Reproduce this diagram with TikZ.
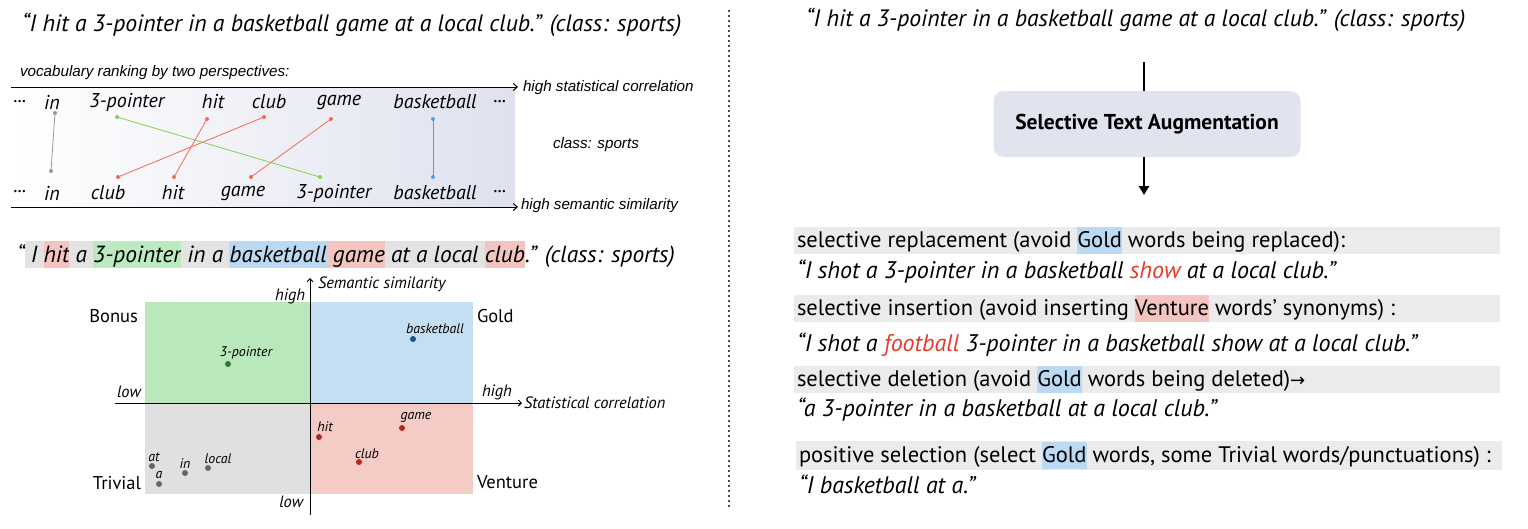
\documentclass[tikz,border=0pt]{standalone}
\usepackage{fontspec}
\setmainfont{PT Sans}
\newfontfamily\helv{Liberation Sans}
\newfontfamily\symf{DejaVu Sans}
\usetikzlibrary{arrows.meta}
\definecolor{lav}{HTML}{DFE1EE}
\definecolor{lngray}{HTML}{999999}
\definecolor{lngreen}{HTML}{7FD34E}
\definecolor{lnred}{HTML}{F26B55}
\definecolor{lnblue}{HTML}{4D9FF2}
\definecolor{hlgray}{HTML}{E3E3E3}
\definecolor{hlred}{HTML}{F4C5C0}
\definecolor{hlgreen}{HTML}{BCEAC0}
\definecolor{hlblue}{HTML}{BBD9F2}
\definecolor{qgreen}{HTML}{B9E8BC}
\definecolor{qblue}{HTML}{C5DFF2}
\definecolor{qgray}{HTML}{E0E0E0}
\definecolor{qpink}{HTML}{F5CBC6}
\definecolor{dgray}{HTML}{666666}
\definecolor{dred}{HTML}{B22A1F}
\definecolor{dgreen}{HTML}{2E7D2E}
\definecolor{dblue}{HTML}{24508A}
\definecolor{stripgray}{HTML}{EBEBEB}
\definecolor{boxfill}{HTML}{E1E3EF}
\definecolor{txtred}{HTML}{E8392A}
\newcommand\hlm[2]{{\setlength{\fboxsep}{0pt}\colorbox{#1}{\rule[-6pt]{0pt}{27pt}#2}}}
\newcommand\hlr[2]{{\setlength{\fboxsep}{0pt}\colorbox{#1}{\rule[-7pt]{0pt}{27pt}#2}}}
\begin{document}
\begin{tikzpicture}[x=1pt,y=-1pt,
  every node/.style={inner sep=0pt, outer sep=0pt},
  ttl/.style={anchor=west, font=\fontsize{23.7}{27}\selectfont\itshape},
  hv/.style={font=\helv\fontsize{15.2}{17}\selectfont\itshape},
  rword/.style={font=\fontsize{20}{22}\selectfont\itshape},
  rdot/.style={circle, fill=#1, minimum size=4pt},
  qdot/.style={circle, fill=#1, minimum size=6pt},
  qlab/.style={font=\fontsize{13.9}{15}\selectfont\itshape},
  qname/.style={font=\fontsize{18.5}{20}\selectfont},
  axlab/.style={font=\fontsize{16.4}{18}\selectfont\itshape},
  strip/.style={fill=stripgray, minimum width=706pt, minimum height=27pt},
  rtxt/.style={anchor=base west, font=\fontsize{22.5}{26}\selectfont},
  ritx/.style={anchor=base west, font=\fontsize{24}{28}\selectfont\itshape},
  axarrow/.style={line width=1pt, -{Straight Barb[length=4pt,width=7pt]}},
  sep/.style={draw=black!70, line width=1.3pt, dash pattern=on 2pt off 3pt}
]
\useasboundingbox (0,0) rectangle (1528,528);

% ---------------- left panel ----------------
\node[ttl] (ltitle) at (22,25) {“I hit a 3-pointer in a basketball game at a local club.” (class: sports)};

\node[hv, anchor=west] (vocab) at (20,73) {vocabulary ranking by two perspectives:};
\shade[left color=white, right color=lav] (11,87) rectangle (515,207);
\coordinate (ta0) at (11,87);
\coordinate (ta1) at (518,87);
\coordinate (ba0) at (11,207);
\coordinate (ba1) at (518,207);
\draw[axarrow] (ta0) -- (ta1);
\draw[axarrow] (ba0) -- (ba1);
\node[hv, anchor=west] (hsc) at (523,88) {high statistical correlation};
\node[hv, anchor=west] (hss) at (521,206) {high semantic similarity};
\node[hv, anchor=west] (csp) at (553,145) {class: sports};

% top ranking words
\node[rword] (tdots) at (20,102) {...};
\node[rword] (tin) at (52,102) {in};
\node[rword] (t3p) at (127,102) {3-pointer};
\node[rword] (thit) at (213,102) {hit};
\node[rword] (tclub) at (269,102) {club};
\node[rword] (tgame) at (339,102) {game};
\node[rword] (tbb) at (435,102) {basketball};
\node[rword] (tdots2) at (500,102) {...};
% bottom ranking words
\node[rword] (bdots) at (20,192) {...};
\node[rword] (bin) at (52,193) {in};
\node[rword] (bclub) at (108,193) {club};
\node[rword] (bhit) at (173,193) {hit};
\node[rword] (bgame) at (243,193) {game};
\node[rword] (b3p) at (334,193) {3-pointer};
\node[rword] (bbb) at (435,193) {basketball};
\node[rword] (bdots2) at (500,192) {...};
% dots
\node[rdot=lngray] (dtin) at (55,113) {};
\node[rdot=lngreen] (dt3p) at (117,117) {};
\node[rdot=lnred] (dthit) at (207,119) {};
\node[rdot=lnred] (dtclub) at (264,117) {};
\node[rdot=lnred] (dtgame) at (331,119) {};
\node[rdot=lnblue] (dtbb) at (433,119) {};
\node[rdot=lngray] (dbin) at (51,171) {};
\node[rdot=lnred] (dbclub) at (118,177) {};
\node[rdot=lnred] (dbhit) at (174,177) {};
\node[rdot=lnred] (dbgame) at (251,177) {};
\node[rdot=lngreen] (db3p) at (320,177) {};
\node[rdot=lnblue] (dbbb) at (433,177) {};
\draw[lngray, line width=0.8pt] (dtin.center) -- (dbin.center);
\draw[lngreen, line width=0.8pt] (dt3p.center) -- (db3p.center);
\draw[lnred, line width=0.8pt] (dthit.center) -- (dbhit.center);
\draw[lnred, line width=0.8pt] (dtclub.center) -- (dbclub.center);
\draw[lnred, line width=0.8pt] (dtgame.center) -- (dbgame.center);
\draw[lnblue, line width=0.8pt] (dtbb.center) -- (dbbb.center);

% highlighted sentence
\node[anchor=base west, font=\fontsize{23.4}{26}\selectfont\itshape] (hls) at (17,262)
 {“\hlm{hlgray}{\ I\ }\hlm{hlred}{hit}\hlm{hlgray}{\ a\ }\hlm{hlgreen}{3-pointer}\hlm{hlgray}{\ in a\ }\hlm{hlblue}{basketball}\hlm{hlred}{\ game}\hlm{hlgray}{\ at a local\ }\hlm{hlred}{club}.” (class: sports)};

% quadrants
\fill[qgreen] (145,302) rectangle (310,403);
\fill[qblue] (310,302) rectangle (473,403);
\fill[qgray] (145,403) rectangle (310,494);
\fill[qpink] (310,403) rectangle (473,494);
\coordinate (v0) at (310,515);
\coordinate (v1) at (310,278);
\coordinate (h0) at (115,403);
\coordinate (h1) at (522,403);
\draw[line width=1pt, -{Straight Barb[length=3pt,width=6pt]}] (v0) -- (v1);
\draw[line width=1pt, -{Straight Barb[length=3pt,width=6pt]}] (h0) -- (h1);
\node[axlab, anchor=west] (semsim) at (318,284) {Semantic similarity};
\node[axlab, anchor=east] (vhigh) at (305,296) {high};
\node[axlab, anchor=east] (vlow) at (303,502) {low};
\node[axlab, anchor=west] (hlow) at (117,392) {low};
\node[axlab, anchor=west] (hhigh) at (482,392) {high};
\node[axlab, anchor=west] (statcor) at (524,403) {Statistical correlation};
\node[qname, anchor=east] (bonus) at (138,316) {Bonus};
\node[qname, anchor=west] (gold) at (477,316) {Gold};
\node[qname, anchor=east] (trivial) at (141,483) {Trivial};
\node[qname, anchor=west] (venture) at (477,482) {Venture};

\node[qdot=dgreen] (q3p) at (228,364) {};
\node[qlab] (l3p) at (246,353) {3-pointer};
\node[qdot=dblue] (qbb) at (413,339) {};
\node[qlab] (lbb) at (435,329) {basketball};
\node[qdot=dred] (qhit) at (319,437) {};
\node[qlab] (lhit) at (325,427) {hit};
\node[qdot=dred] (qgame) at (402,428) {};
\node[qlab] (lgame) at (416,417) {game};
\node[qdot=dred] (qclub) at (359,462) {};
\node[qlab] (lclub) at (367,454) {club};
\node[qdot=dgray] (qat) at (152,466) {};
\node[qlab] (lat) at (154,457) {at};
\node[qdot=dgray] (qa) at (159,484) {};
\node[qlab] (la) at (159,475) {a};
\node[qdot=dgray] (qin) at (185,473) {};
\node[qlab] (lin) at (185,464) {in};
\node[qdot=dgray] (qlocal) at (208,468) {};
\node[qlab] (llocal) at (218,459) {local};

% separator
\coordinate (s0) at (729,10);
\coordinate (s1) at (729,508);
\draw[sep] (s0) -- (s1);

% ---------------- right panel ----------------
\node[ttl] (rtitle) at (806,20) {“I hit a 3-pointer in a basketball game at a local club.” (class: sports)};
\node[fill=boxfill, rounded corners=10pt, minimum width=307pt, minimum height=66pt,
      font=\fontsize{21.5}{24}\selectfont\bfseries] (sta) at (1147,124) {Selective Text Augmentation};
\coordinate (a0) at (1144,62);
\coordinate (a1) at (1144,195);
\draw[line width=2.5pt] (a0) -- (a0 |- sta.north);
\draw[line width=2.5pt, -{Triangle[length=9pt,width=10pt]}] (a1 |- sta.south) -- (a1);

\node[strip, anchor=north west] (st1) at (794,227) {};
\node[strip, anchor=north west] (st2) at (794,295) {};
\node[strip, anchor=north west] (st3) at (794,366) {};
\node[strip, anchor=north west, minimum height=29pt] (st4) at (796,441) {};

\node[rtxt] (r1) at (797,247) {selective replacement (avoid \hlr{hlblue}{Gold} words being replaced):};
\node[ritx] (r2) at (797,278) {“I shot a 3-pointer in a basketball \textcolor{txtred}{show} at a local club.”};
\node[rtxt] (r3) at (797,315) {selective insertion (avoid inserting \hlr{hlred}{Venture} words’ synonyms) :};
\node[ritx] (r4) at (797,351) {“I shot a \textcolor{txtred}{football} 3-pointer in a basketball show at a local club.”};
\node[rtxt] (r5) at (797,386) {selective deletion (avoid \hlr{hlblue}{Gold} words being deleted){\symf\fontsize{18}{20}\selectfont →}};
\node[ritx] (r6) at (797,416) {“a 3-pointer in a basketball at a local club.”};
\node[rtxt] (r7) at (799,462) {positive selection (select \hlr{hlblue}{Gold} words, some Trivial words/punctuations) :};
\node[ritx] (r8) at (799,493) {“I basketball at a.”};
\end{tikzpicture}
\end{document}
